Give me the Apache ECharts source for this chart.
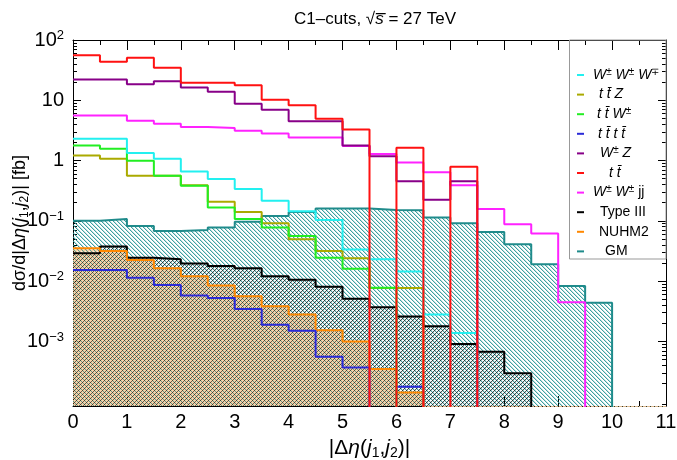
<!DOCTYPE html>
<html><head><meta charset="utf-8">
<script src="https://cdn.jsdelivr.net/npm/echarts@6/dist/echarts.min.js"></script>
<style>html,body{margin:0;padding:0;background:#fff}#c{width:677px;height:460px}</style>
</head><body><div id="c"></div>
<script>
// ---- data (bins of width 0.5 starting at 0) ----
const BIN = 0.5;
const xTicks = [0,1,2,3,4,5,6,7,8,9,10,11];
const yMajorTicks = [1e-3, 1e-2, 1e-1, 1, 10, 100];
const WWW   = [2.3, 2.3, 1.34, 1.07, 0.656, 0.495, 0.338, 0.215, 0.144, 0.103, 0.0334, 0.023, 0.0145, 0.00279, 0.00138, 0,0,0,0,0,0,0];
const ttZ   = [1.21, 1.07, 0.56, 0.56, 0.39, 0.207, 0.141, 0.0916, 0.0495, 0.0316, 0.0239, 0.0077, 0.0077, 0,0,0,0,0,0,0,0,0];
const ttW   = [1.78, 1.57, 0.99, 0.56, 0.383, 0.167, 0.107, 0.0776, 0.056, 0.0245, 0.0161, 0.0078, 0, 0,0,0,0,0,0,0,0,0];
const tttt  = [0.0153, 0.0153, 0.0114, 0.0086, 0.00578, 0.00525, 0.00347, 0.0019, 0.0015, 0.00056, 0.00037, 0, 0.000178, 0,0,0,0,0,0,0,0,0];
const WZ    = [22.1, 22.1, 18.5, 20.7, 16.3, 13.8, 8.8, 7.0, 4.5, 4.5, 1.78, 1.18, 0.454, 0.224, 0.454, 0,0,0,0,0,0,0];
const tt    = [56, 43.6, 50.9, 34.7, 19.5, 19.5, 17.8, 10.2, 8.25, 4.95, 3.29, 0, 1.63, 0, 0.79, 0,0,0,0,0,0,0];
const WWjj  = [5.62, 5.62, 4.59, 4.09, 3.6, 3.46, 3.13, 2.82, 2.42, 2.42, 1.74, 1.28, 0.93, 0.64, 0.39, 0.157, 0.088, 0.0616, 0.00447, 0, 0, 0];
const TypeIII = [0.029, 0.0374, 0.0245, 0.023, 0.0197, 0.0178, 0.0163, 0.0121, 0.0106, 0.0081, 0.0051, 0.0037, 0.0026, 0.00178, 0.000905, 0.000673, 0.000297, 0,0,0,0,0];
const NUHM2 = [0.035, 0.0316, 0.0224, 0.0163, 0.0121, 0.0085, 0.0056, 0.00383, 0.00279, 0.00153, 0.001, 0.00035, 0.000143, 0,0,0,0,0,0,0,0,0];
const GM    = [0.1, 0.107, 0.0826, 0.068, 0.0707, 0.0776, 0.0963, 0.121, 0.141, 0.161, 0.161, 0.151, 0.15, 0.114, 0.0916, 0.0655, 0.041, 0.019, 0.0083, 0.0044, 0, 0];

const YMIN = 8.5e-5, YMAX = 100, FLOOR = 1e-7;
const FONT = 'Liberation Sans';

function steps(vals){
  const pts = vals.map((v,i)=>[i*BIN, v>0 ? v : FLOOR]);
  pts.push([vals.length*BIN, FLOOR]);
  return pts;
}
function pattern(fn){
  const c = document.createElement('canvas'); c.width = 4; c.height = 4;
  const ctx = c.getContext('2d'); const img = ctx.createImageData(4,4);
  for (let y=0;y<4;y++) for (let x=0;x<4;x++){
    const p = fn(x,y); const k = (y*4+x)*4;
    img.data[k]=p[0]; img.data[k+1]=p[1]; img.data[k+2]=p[2]; img.data[k+3]=p[3];
  }
  ctx.putImageData(img,0,0); return c;
}
const gmPat = pattern((x,y)=>{const d=((x-y)%4+4)%4; return d===0?[40,150,150,230]:(d===1?[40,150,150,70]:[0,0,0,0]);});
const t3Pat = pattern((x,y)=>{const d=(x+y)%4; return d===0?[0,0,0,170]:(d===1?[0,0,0,30]:[0,0,0,0]);});
const nuPat = pattern((x,y)=>{const a=((x-y)%4+4)%4===0, b=(x+y)%4===0; return (a||b)?[255,150,60,40]:[245,205,160,230];});

const defs = [
  {name:'GM', data:GM, color:'#1f8b8b', fill:gmPat},
  {name:'Type III', data:TypeIII, color:'#000000', fill:t3Pat},
  {name:'NUHM2', data:NUHM2, color:'#ff8800', fill:nuPat},
  {name:'tttt', data:tttt, color:'#2a2ad8'},
  {name:'ttZ', data:ttZ, color:'#aaaa00'},
  {name:'ttW', data:ttW, color:'#22ee22'},
  {name:'WWW', data:WWW, color:'#22f0f0'},
  {name:'WWjj', data:WWjj, color:'#ff22ff'},
  {name:'WZ', data:WZ, color:'#880088'},
  {name:'tt', data:tt, color:'#ff1111'}
];
const legendOrder = ['WWW','ttZ','ttW','tttt','WZ','tt','WWjj','Type III','NUHM2','GM'];
const legendText = {
  'WWW': '{p4| }{it|W}{sup|±}{it| W}{sup|±}{it| W}{sup|∓}',
  'ttZ': '{p10| }{it|t t̄ Z}',
  'ttW': '{p8| }{it|t t̄ W}{sup|±}',
  'tttt': '{p9| }{it|t t̄ t t̄}',
  'WZ': '{p11| }{it|W}{sup|±}{it| Z}',
  'tt': '{p20| }{it|t t̄}',
  'WWjj': '{p4| }{it|W}{sup|±}{it| W}{sup|±}{n| jj}',
  'Type III': '{p11| }{n|Type III}',
  'NUHM2': '{p10| }{n|NUHM2}',
  'GM': '{p16| }{n|GM}'
};
const colorOf = {}; defs.forEach(d=>colorOf[d.name]=d.color);

const series = defs.map(d=>({
  name: d.name, type:'line', step:'end', symbol:'none', clip:true,
  xAxisIndex:0, yAxisIndex:0,
  data: steps(d.data),
  itemStyle:{color:d.color},
  lineStyle:{color:d.color, width:2},
  areaStyle: d.fill ? {color:{image:d.fill, repeat:'repeat'}, origin:'start', opacity:1} : undefined,
  emphasis:{disabled:true}, animation:false
}));

const yMinor = [];
for (let e=-5;e<=1;e++) for (let m=2;m<=9;m++){ const v=m*Math.pow(10,e); if (v>=YMIN && v<=YMAX) yMinor.push(v); }

function yFmt(v){
  const e = Math.round(Math.log10(v));
  if (e===0) return '{b|1}';
  if (e===1) return '{b|10}';
  return '{b|10}{sup|' + (e<0?'−':'') + Math.abs(e) + '}';
}
const yRich = {b:{fontSize:20, fontFamily:FONT, color:'#000', lineHeight:22}, sup:{fontSize:13, fontFamily:FONT, color:'#000', lineHeight:13, verticalAlign:'top'}};

const common = {type:'log', min:YMIN, max:YMAX, logBase:10, splitLine:{show:false}, minorTick:{show:false}};
const yAxis = [
  Object.assign({}, common, {position:'left', axisLine:{show:true, lineStyle:{color:'#000'}},
    axisTick:{inside:true, length:8, customValues:yMajorTicks, lineStyle:{color:'#000'}},
    axisLabel:{customValues:yMajorTicks, formatter:yFmt, rich:yRich, margin:9},
    name:'d{r|σ}/d|Δ{it|η}({it|j}{sub|1},{it|j}{sub|2})| [fb]', nameLocation:'middle', nameRotate:90, nameGap:42,
    nameMoveOverlap:false,
    nameTextStyle:{fontSize:18, fontFamily:FONT, color:'#000', rich:{
      r:{fontSize:18, fontFamily:FONT, lineHeight:22}, it:{fontSize:18, fontStyle:'italic', fontFamily:FONT, lineHeight:22},
      sub:{fontSize:12, fontFamily:FONT, lineHeight:13, verticalAlign:'bottom'}}}}),
  Object.assign({}, common, {position:'left', axisLine:{show:false},
    axisTick:{inside:true, length:4, customValues:yMinor, lineStyle:{color:'#000'}}, axisLabel:{show:false}}),
  Object.assign({}, common, {position:'right', axisLine:{show:true, lineStyle:{color:'#000'}},
    axisTick:{inside:true, length:8, customValues:yMajorTicks, lineStyle:{color:'#000'}}, axisLabel:{show:false}}),
  Object.assign({}, common, {position:'right', axisLine:{show:false},
    axisTick:{inside:true, length:4, customValues:yMinor, lineStyle:{color:'#000'}}, axisLabel:{show:false}})
];
const xCommon = {type:'value', min:0, max:11, interval:1, splitLine:{show:false},
  axisLine:{show:true, onZero:false, lineStyle:{color:'#000'}},
  axisTick:{inside:true, length:10, lineStyle:{color:'#000'}},
  minorTick:{show:true, splitNumber:2, length:5, lineStyle:{color:'#000'}}};
const xAxis = [
  Object.assign({}, xCommon, {position:'bottom',
    axisLabel:{fontSize:20, fontFamily:FONT, color:'#000', margin:6, customValues:xTicks},
    name:'|Δ{it|η}({it|j}{sub|1},{it|j}{sub|2})|', nameLocation:'middle', nameGap:30, nameMoveOverlap:false,
    nameTextStyle:{fontSize:21, fontFamily:FONT, color:'#000', rich:{
      it:{fontSize:21, fontStyle:'italic', fontFamily:FONT, lineHeight:24},
      sub:{fontSize:14, fontFamily:FONT, lineHeight:14, verticalAlign:'bottom'}}}}),
  Object.assign({}, xCommon, {position:'top', axisLabel:{show:false}})
];

const legendRich = {
  it:{fontSize:14, fontStyle:'italic', fontFamily:FONT, color:'#000', lineHeight:16},
  n:{fontSize:14, fontFamily:FONT, color:'#000', lineHeight:16},
  sup:{fontSize:10, fontFamily:FONT, color:'#000', lineHeight:10, verticalAlign:'top'}
};
[4,8,9,10,11,16,20].forEach(w=>legendRich['p'+w]={width:w, fontSize:14, lineHeight:16});

const option = {
  animation:false,
  backgroundColor:'#fff',
  title:{text:'C1–cuts, {r|√}{it|s̅} = 27 TeV', left:370, top:6, textAlign:'center',
    textStyle:{fontSize:17, fontWeight:'normal', fontFamily:FONT, color:'#000', rich:{
      r:{fontSize:17, fontFamily:FONT, color:'#000'}, it:{fontSize:17, fontStyle:'italic', fontFamily:FONT, color:'#000'}}}},
  grid:{left:73, right:11, top:40, bottom:54, containLabel:false, outerBoundsMode:'none'},
  xAxis, yAxis,
  legend:{orient:'vertical', left:572, top:62, itemWidth:7, itemHeight:2, itemGap:3.6, selectedMode:false,
    data: legendOrder.map(n=>({name:n, icon:'rect', itemStyle:{color:colorOf[n], borderWidth:0}})),
    formatter:n=>legendText[n], textStyle:{rich:legendRich, fontSize:14, fontFamily:FONT, color:'#000', lineHeight:16}},
  graphic:[{type:'rect', shape:{x:569.5, y:40, width:96.5, height:219}, style:{fill:'none', stroke:'#999', lineWidth:1}, z:100, silent:true}],
  series
};
const chart = echarts.init(document.getElementById('c'), null, {renderer:'canvas'});
chart.setOption(option);
</script></body></html>
